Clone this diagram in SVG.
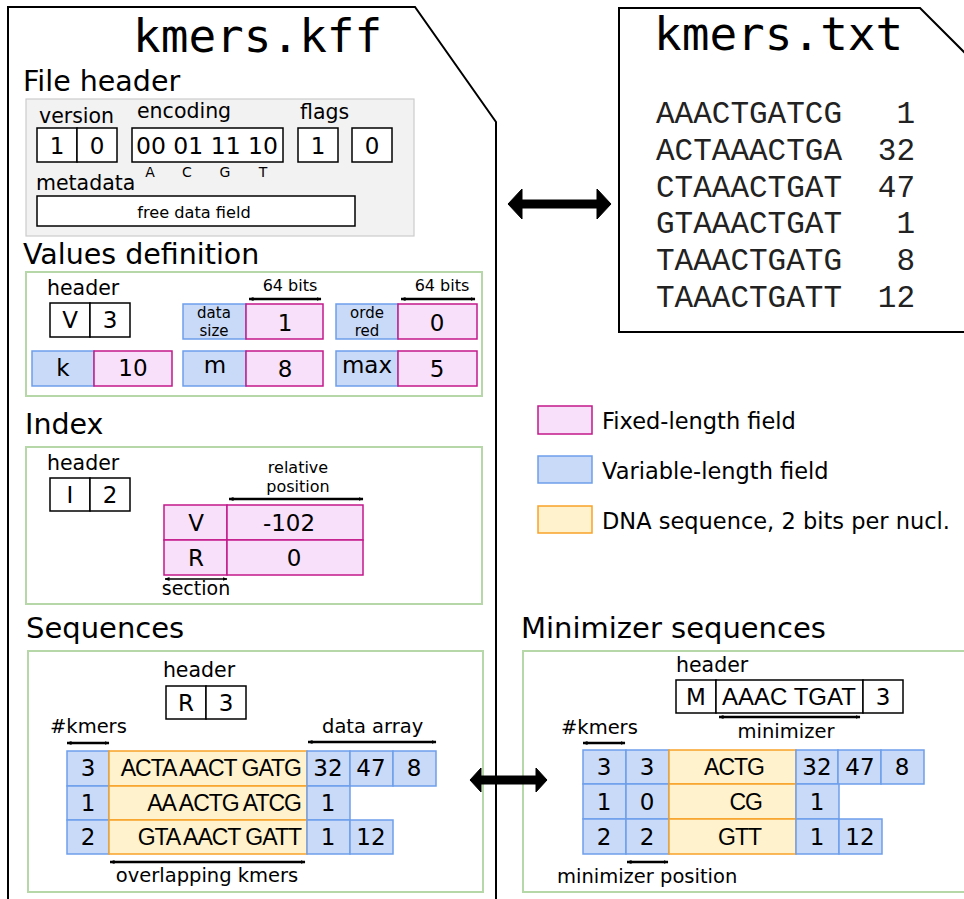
<svg xmlns="http://www.w3.org/2000/svg" width="964" height="899" viewBox="0 0 964 899">
<style>
text{font-family:"DejaVu Sans",sans-serif;fill:#000}
.mono{font-family:"DejaVu Sans Mono",monospace;font-size:46px}
.cour{font-family:"Liberation Mono","Courier New",monospace;font-size:31px;fill:#222}
.h{font-size:28.5px}
.l{font-size:20.5px}
.s{font-size:19.5px}
.sm{font-size:16px}
.two{font-size:15px;text-anchor:middle}
.v{font-size:23px;text-anchor:middle}
.c{text-anchor:middle}
.e{text-anchor:end}
.dnaT{font-family:"Liberation Sans",Arial,sans-serif;font-size:23px;letter-spacing:-1px;text-anchor:end}
.file{fill:#fff;stroke:#000;stroke-width:2}
.box{fill:#fff;stroke:#000;stroke-width:1.5}
.fix{fill:#f9e0fa;stroke:#c2188a;stroke-width:1.5}
.var{fill:#c9daf8;stroke:#6d9eeb;stroke-width:1.5}
.dna{fill:#fff2cc;stroke:#f8a227;stroke-width:1.5}
.grp{fill:none;stroke:#b6d7a8;stroke-width:2}
.gray{fill:#f2f2f2;stroke:#cccccc;stroke-width:1.2}
.dim{stroke:#000;stroke-width:2.5;fill:none;marker-start:url(#ah);marker-end:url(#ah)}
.dimt{stroke:#000;stroke-width:1.5;fill:none;marker-start:url(#ah);marker-end:url(#ah)}
.big{fill:#000;stroke:#000;stroke-width:1}
</style>
<defs>
<marker id="ah" viewBox="0 0 10 10" refX="9" refY="5" markerWidth="5" markerHeight="5" markerUnits="userSpaceOnUse" orient="auto-start-reverse"><path d="M0,1 L10,5 L0,9 Z" fill="#000"/></marker>
</defs>

<g id="kff-file">
<path class="file" d="M8,905 V7 H415 L496,122 V905"/>
<text class="mono" x="133" y="52">kmers.kff</text>
</g>

<g id="txt-file">
<path class="file" d="M975,332 H619 V8 H920 L975,63"/>
<text class="mono" x="654" y="50">kmers.txt</text>
<text class="cour" x="656" y="123">AAACTGATCG</text><text class="cour e" x="915" y="123">1</text>
<text class="cour" x="656" y="160">ACTAAACTGA</text><text class="cour e" x="915" y="160">32</text>
<text class="cour" x="656" y="197">CTAAACTGAT</text><text class="cour e" x="915" y="197">47</text>
<text class="cour" x="656" y="233">GTAAACTGAT</text><text class="cour e" x="915" y="233">1</text>
<text class="cour" x="656" y="270">TAAACTGATG</text><text class="cour e" x="915" y="270">8</text>
<text class="cour" x="656" y="307">TAAACTGATT</text><text class="cour e" x="915" y="307">12</text>
</g>

<g id="file-header">
<text class="h" x="23" y="91">File header</text>
<rect class="gray" x="26" y="99" width="388" height="137"/>
<text class="l" x="39" y="123">version</text>
<text class="l" x="137" y="118">encoding</text>
<text class="l" x="300" y="119">flags</text>
<rect class="box" x="37" y="128" width="40" height="34"/><rect class="box" x="77" y="128" width="40" height="34"/>
<text class="v" x="57" y="154">1</text><text class="v" x="97" y="154">0</text>
<rect class="box" x="132" y="128" width="151" height="34"/>
<text class="v" x="207" y="154" style="font-size:23.5px">00 01 11 10</text>
<rect class="box" x="298" y="128" width="40" height="34"/><rect class="box" x="352" y="128" width="40" height="34"/>
<text class="v" x="318" y="154">1</text><text class="v" x="372" y="154">0</text>
<text class="c" x="150" y="177" style="font-size:14px">A</text>
<text class="c" x="187" y="177" style="font-size:14px">C</text>
<text class="c" x="225" y="177" style="font-size:14px">G</text>
<text class="c" x="263" y="177" style="font-size:14px">T</text>
<text class="l" x="36" y="190">metadata</text>
<rect class="box" x="37" y="196" width="318" height="30"/>
<text class="c" x="194" y="218" style="font-size:16.2px">free data field</text>
</g>

<g id="values-definition">
<text class="h" x="23" y="264">Values definition</text>
<rect class="grp" x="26" y="272" width="456" height="124"/>
<text x="47" y="295" style="font-size:20.5px">header</text>
<rect class="box" x="50" y="303" width="40" height="34"/><rect class="box" x="90" y="303" width="40" height="34"/>
<text class="v" x="70" y="328">V</text><text class="v" x="110" y="328">3</text>
<text class="sm c" x="290" y="291">64 bits</text>
<path class="dim" d="M249,299 H321"/>
<text class="sm c" x="442" y="291">64 bits</text>
<path class="dim" d="M401,299 H475"/>
<rect class="var" x="183" y="304" width="63" height="35"/><rect class="fix" x="246" y="304" width="77" height="35"/>
<text class="two"><tspan x="214" y="318">data</tspan><tspan x="214" y="336">size</tspan></text>
<text class="v" x="285" y="331">1</text>
<rect class="var" x="336" y="304" width="62" height="35"/><rect class="fix" x="398" y="304" width="79" height="35"/>
<text class="two"><tspan x="367" y="318">orde</tspan><tspan x="367" y="336">red</tspan></text>
<text class="v" x="437" y="331">0</text>
<rect class="var" x="32" y="351" width="62" height="35"/><rect class="fix" x="94" y="351" width="78" height="35"/>
<text class="v" x="63" y="376">k</text><text class="v" x="133" y="376">10</text>
<rect class="var" x="183" y="351" width="63" height="35"/><rect class="fix" x="246" y="351" width="77" height="35"/>
<text class="v" x="215" y="373">m</text><text class="v" x="285" y="377">8</text>
<rect class="var" x="336" y="351" width="62" height="35"/><rect class="fix" x="398" y="351" width="79" height="35"/>
<text class="v" x="367" y="373">max</text><text class="v" x="437" y="377">5</text>
</g>

<g id="index">
<text class="h" x="25" y="434">Index</text>
<rect class="grp" x="26" y="447" width="456" height="157"/>
<text x="47" y="470" style="font-size:20.5px">header</text>
<rect class="box" x="50" y="478" width="40" height="33"/><rect class="box" x="90" y="478" width="40" height="33"/>
<text class="v" x="70" y="503">I</text><text class="v" x="110" y="503">2</text>
<text class="two" style="font-size:16px"><tspan x="298" y="473">relative</tspan><tspan x="298" y="492">position</tspan></text>
<path class="dim" d="M229,499 H363"/>
<rect class="fix" x="164" y="505" width="63" height="35"/><rect class="fix" x="227" y="505" width="136" height="35"/>
<rect class="fix" x="164" y="540" width="63" height="35"/><rect class="fix" x="227" y="540" width="136" height="35"/>
<text class="v" x="196" y="531">V</text><text class="v" x="289" y="531">-102</text>
<text class="v" x="196" y="566">R</text><text class="v" x="294" y="566">0</text>
<path class="dimt" d="M165,579 H227"/>
<text class="c" x="196" y="595" style="font-size:19px">section</text>
</g>

<g id="sequences">
<text class="h" x="26" y="638" style="font-size:29px">Sequences</text>
<rect class="grp" x="28" y="651" width="455" height="241"/>
<text class="c" x="199" y="677" style="font-size:20.5px">header</text>
<rect class="box" x="166" y="686" width="40" height="33"/><rect class="box" x="206" y="686" width="40" height="33"/>
<text class="v" x="186" y="711">R</text><text class="v" x="226" y="711">3</text>
<text class="s" x="50" y="733">#kmers</text>
<path class="dim" d="M67,743 H109"/>
<text class="s" x="322" y="733">data array</text>
<path class="dim" d="M308,742 H436"/>
<rect class="var" x="67" y="751" width="42" height="35"/><rect class="dna" x="109" y="751" width="198" height="35"/>
<rect class="var" x="307" y="751" width="43" height="35"/><rect class="var" x="350" y="751" width="43" height="35"/><rect class="var" x="393" y="751" width="43" height="35"/>
<rect class="var" x="67" y="786" width="42" height="34"/><rect class="dna" x="109" y="786" width="198" height="34"/>
<rect class="var" x="307" y="786" width="43" height="34"/>
<rect class="var" x="67" y="820" width="42" height="34"/><rect class="dna" x="109" y="820" width="198" height="34"/>
<rect class="var" x="307" y="820" width="43" height="34"/><rect class="var" x="350" y="820" width="43" height="34"/>
<text class="v" x="88" y="776">3</text><text class="dnaT" x="301" y="776">ACTA AACT GATG</text>
<text class="v" x="328" y="776">32</text><text class="v" x="371" y="776">47</text><text class="v" x="414" y="776">8</text>
<text class="v" x="88" y="811">1</text><text class="dnaT" x="301" y="811">AA ACTG ATCG</text>
<text class="v" x="328" y="811">1</text>
<text class="v" x="88" y="845">2</text><text class="dnaT" x="301" y="845">GTA AACT GATT</text>
<text class="v" x="328" y="845">1</text><text class="v" x="371" y="845">12</text>
<path class="dim" d="M110,862 H305"/>
<text class="s c" x="207" y="882">overlapping kmers</text>
</g>

<g id="minimizer-sequences">
<text class="h" x="521" y="638" style="font-size:29px">Minimizer sequences</text>
<rect class="grp" x="523" y="651" width="450" height="241"/>
<text x="676" y="672" style="font-size:20.5px">header</text>
<rect class="box" x="676" y="680" width="40" height="33"/><rect class="box" x="716" y="680" width="147" height="33"/><rect class="box" x="863" y="680" width="40" height="33"/>
<text class="v" x="696" y="705">M</text>
<text x="789" y="705" style="font-family:'Liberation Sans',Arial,sans-serif;font-size:24px;text-anchor:middle">AAAC TGAT</text>
<text class="v" x="883" y="705">3</text>
<path class="dim" d="M719,717 H860"/>
<text class="s c" x="786" y="738">minimizer</text>
<text class="s" x="561" y="734">#kmers</text>
<path class="dim" d="M583,743 H625"/>
<rect class="var" x="583" y="750" width="43" height="34"/><rect class="var" x="626" y="750" width="43" height="34"/><rect class="dna" x="669" y="750" width="127" height="34"/>
<rect class="var" x="796" y="750" width="42" height="34"/><rect class="var" x="838" y="750" width="43" height="34"/><rect class="var" x="881" y="750" width="43" height="34"/>
<rect class="var" x="583" y="784" width="43" height="35"/><rect class="var" x="626" y="784" width="43" height="35"/><rect class="dna" x="669" y="784" width="127" height="35"/>
<rect class="var" x="796" y="784" width="43" height="35"/>
<rect class="var" x="583" y="819" width="43" height="35"/><rect class="var" x="626" y="819" width="43" height="35"/><rect class="dna" x="669" y="819" width="127" height="35"/>
<rect class="var" x="796" y="819" width="43" height="35"/><rect class="var" x="839" y="819" width="43" height="35"/>
<text class="v" x="604" y="775">3</text><text class="v" x="647" y="775">3</text><text class="dnaT" x="764" y="775">ACTG</text>
<text class="v" x="817" y="775">32</text><text class="v" x="860" y="775">47</text><text class="v" x="902" y="775">8</text>
<text class="v" x="604" y="810">1</text><text class="v" x="647" y="810">0</text><text class="dnaT" x="762" y="810">CG</text>
<text class="v" x="817" y="810">1</text>
<text class="v" x="604" y="845">2</text><text class="v" x="647" y="845">2</text><text class="dnaT" x="761" y="845">GTT</text>
<text class="v" x="817" y="845">1</text><text class="v" x="860" y="845">12</text>
<path class="dim" d="M627,862 H668"/>
<text class="s" x="557" y="883">minimizer position</text>
</g>

<g id="legend">
<rect class="fix" x="538" y="406" width="54" height="28"/>
<text x="602" y="429" style="font-size:22.5px">Fixed-length field</text>
<rect class="var" x="538" y="456" width="54" height="27"/>
<text x="602" y="479" style="font-size:22.5px">Variable-length field</text>
<rect class="dna" x="538" y="506" width="54" height="27"/>
<text x="602" y="529" style="font-size:22.5px">DNA sequence, 2 bits per nucl.</text>
</g>

<g id="connectors">
<path class="big" d="M508,204 L522,189 V200 H597 V189 L611,204 L597,219 V208 H522 V219 Z"/>
<path class="big" d="M470,780 L481,768 V776 H536 V768 L547,780 L536,792 V784 H481 V792 Z"/>
</g>
</svg>
